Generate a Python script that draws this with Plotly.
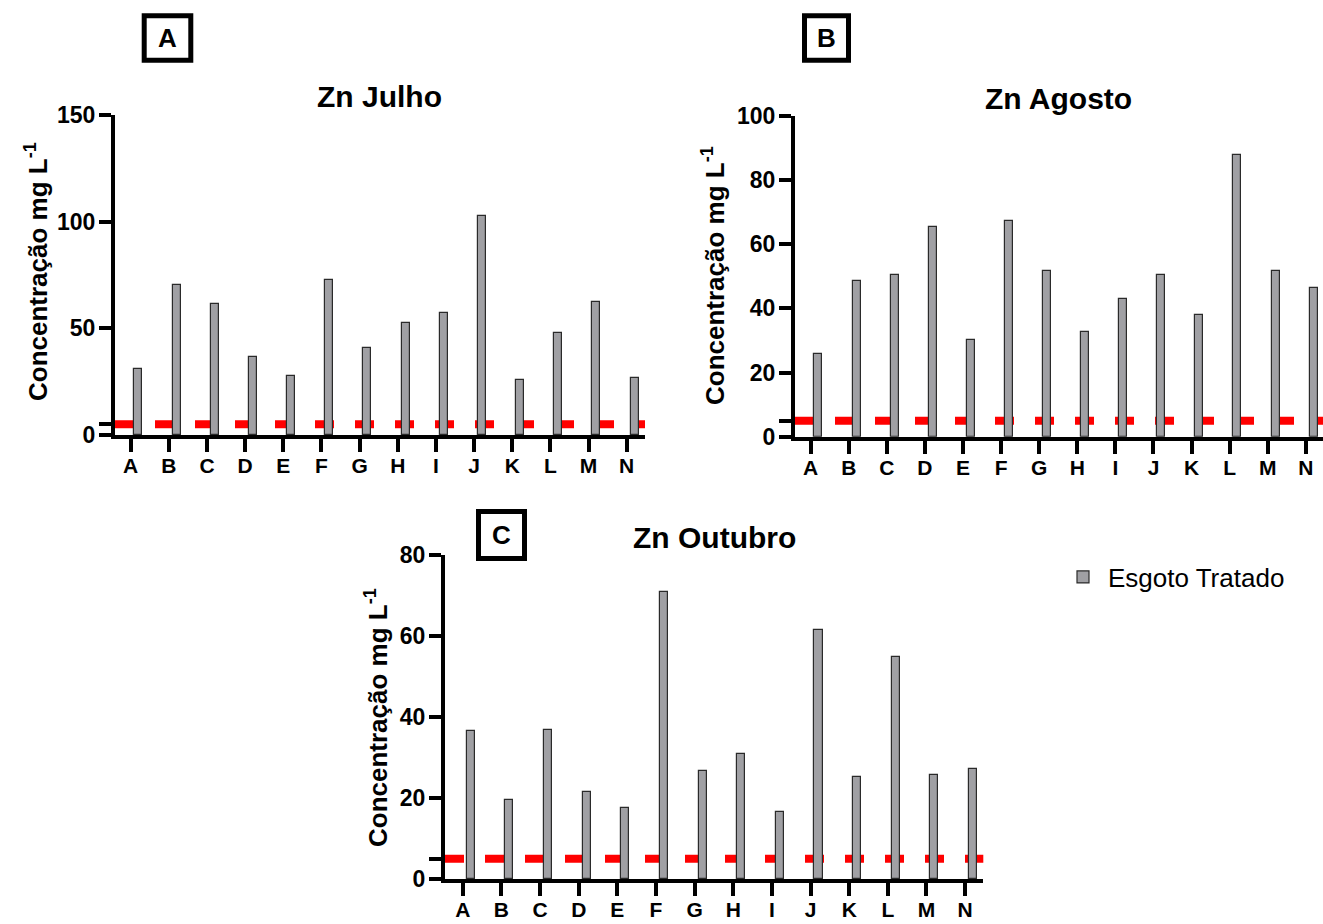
import plotly.graph_objects as go

# ---------------- data ----------------
sites = ["A", "B", "C", "D", "E", "F", "G", "H", "I", "J", "K", "L", "M", "N"]
zn_julho = [31.0, 70.3, 61.3, 36.4, 27.8, 72.7, 40.6, 52.6, 57.0, 102.8, 25.8, 47.7, 62.5, 26.6]
zn_agosto = [25.8, 48.4, 50.5, 65.5, 30.0, 67.3, 51.6, 32.8, 42.9, 50.5, 38.0, 87.9, 51.6, 46.4]
zn_outubro = [36.6, 19.4, 36.9, 21.4, 17.5, 70.8, 26.6, 30.9, 16.6, 61.5, 25.3, 54.8, 25.8, 27.2]
limite = 5.0  # limit line (mg/L)
series_name = "Esgoto Tratado"
panel_titles = ["Zn Julho", "Zn Agosto", "Zn Outubro"]
panel_letters = ["A", "B", "C"]
y_tickvals = [[0, 50, 100, 150], [0, 20, 40, 60, 80, 100], [0, 20, 40, 60, 80]]
y_max = [150, 100, 80]
y_title = "Concentração mg L<sup>-1</sup>"

# ---------------- layout helpers (pixels -> paper) ----------------
W, H = 1323, 924


def px(x):
    return x / W


def py(y):
    return 1 - y / H


FONT = "Liberation Sans, Arial, sans-serif"

# panel geometry in pixels: (left, right, top, bottom), x range
panels = [
    dict(l=115, r=645, t=115, b=435, xr=[-0.41, 13.48]),
    dict(l=795, r=1323, t=116, b=436.7, xr=[-0.41, 13.45]),
    dict(l=445, r=983.3, t=555, b=879, xr=[-0.46, 13.47]),
]
series = [zn_julho, zn_agosto, zn_outubro]

fig = go.Figure()
shapes = []
annotations = []
layout = dict(
    template="none",
    width=W, height=H, margin=dict(l=0, r=0, t=0, b=0, pad=0),
    paper_bgcolor="white", plot_bgcolor="white",
    font=dict(family=FONT, color="black"),
    bargap=0,
)

for i, (p, vals) in enumerate(zip(panels, series)):
    sfx = "" if i == 0 else str(i + 1)
    fig.add_trace(go.Bar(
        x=sites, y=vals, width=0.21, offset=0.1,
        marker=dict(color="#a0a0a4", line=dict(color="#2a2a2a", width=1.2)),
        name=series_name, showlegend=(i == 2),
        xaxis="x" + sfx, yaxis="y" + sfx,
    ))
    layout["xaxis" + sfx] = dict(
        domain=[px(p["l"]), px(p["r"])], anchor="y" + sfx,
        type="category", range=p["xr"], automargin=False,
        showline=True, linewidth=4, linecolor="black",
        ticks="outside", ticklen=13, tickwidth=4, tickcolor="black",
        ticklabelstandoff=-4,
        showgrid=False, zeroline=False,
        tickfont=dict(size=21, family=FONT, weight="bold"),
    )
    layout["yaxis" + sfx] = dict(
        domain=[py(p["b"]), py(p["t"])], anchor="x" + sfx,
        range=[0, y_max[i]], automargin=False,
        tickmode="array", tickvals=y_tickvals[i],
        showline=True, linewidth=4, linecolor="black",
        ticks="outside", ticklen=12, tickwidth=4, tickcolor="black",
        ticklabelstandoff=-1,
        showgrid=False, zeroline=False,
        tickfont=dict(size=23, family=FONT, weight="bold"),
        minor=dict(tickmode="array", tickvals=[limite], ticks="outside",
                   ticklen=12, tickwidth=4, tickcolor="black", showgrid=False),
    )
    # dashed red limit line
    shapes.append(dict(
        type="line", xref="x" + sfx + " domain", yref="y" + sfx,
        x0=0, x1=1, y0=limite, y1=limite, layer="below",
        line=dict(color="#ff0000", width=8, dash="19px,21px"),
    ))

# panel titles
title_pos = [(379, 97), (1058, 99), (714, 537)]
for t, (x, y) in zip(panel_titles, title_pos):
    annotations.append(dict(text=t, x=px(x), y=py(y), xref="paper", yref="paper",
                            xanchor="center", yanchor="middle", showarrow=False,
                            font=dict(size=30, family=FONT, weight="bold")))

# y axis titles
ytitle_pos = [(36, 272), (713, 276), (376, 717)]
for (x, y) in ytitle_pos:
    annotations.append(dict(text=y_title, x=px(x), y=py(y), xref="paper", yref="paper",
                            xanchor="center", yanchor="middle", showarrow=False, textangle=-90,
                            font=dict(size=26, family=FONT, weight="bold")))

# panel letter boxes
boxes = [(141.7, 193.3, 13.3, 62.7), (802, 851, 13.3, 62.7), (476, 527, 509, 561)]
for letter, (x0, x1, y0, y1) in zip(panel_letters, boxes):
    shapes.append(dict(type="rect", xref="paper", yref="paper",
                       x0=px(x0 + 2.5), x1=px(x1 - 2.5), y0=py(y1 - 2.5), y1=py(y0 + 2.5),
                       line=dict(color="black", width=5), fillcolor="white"))
    annotations.append(dict(text=letter, x=px((x0 + x1) / 2), y=py((y0 + y1) / 2),
                            xref="paper", yref="paper", xanchor="center", yanchor="middle",
                            showarrow=False, font=dict(size=26, family=FONT, weight="bold")))

layout["shapes"] = shapes
layout["annotations"] = annotations
layout["showlegend"] = True
layout["legend"] = dict(x=px(1058), y=py(577), xanchor="left", yanchor="middle",
                        bgcolor="rgba(0,0,0,0)", font=dict(size=26, family=FONT),
                        itemwidth=40)

fig.update_layout(**layout)
fig.write_html("out.html", config={"displayModeBar": False},
               post_script="document.body.style.margin='0';")
